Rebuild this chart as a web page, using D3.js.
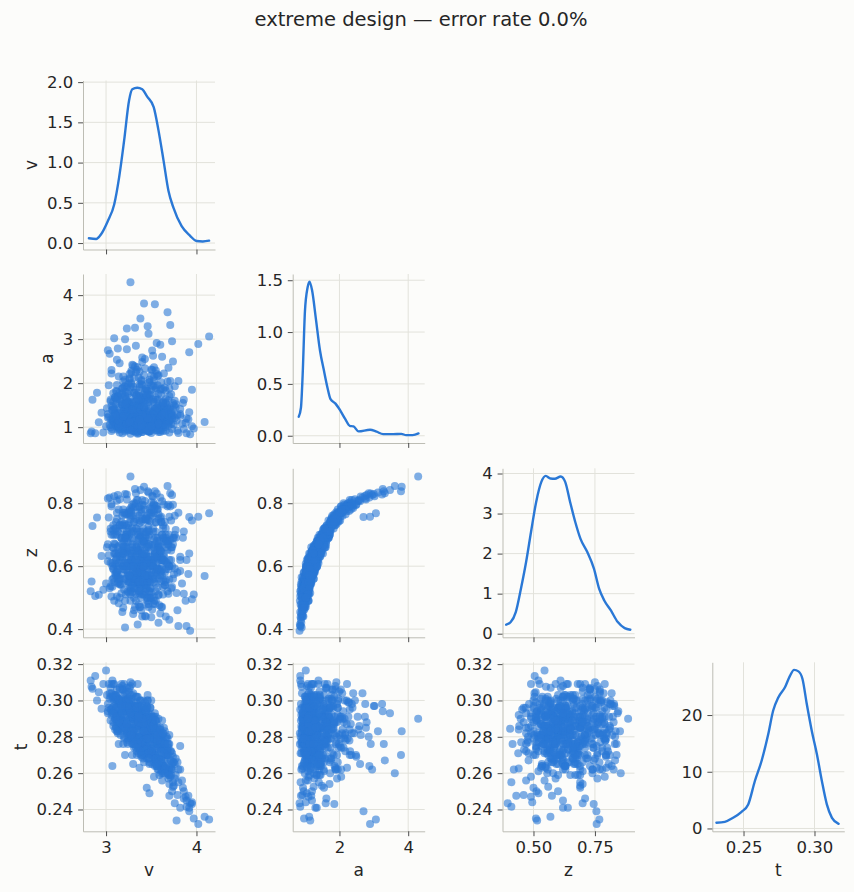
<!DOCTYPE html>
<html>
<head>
<meta charset="utf-8">
<script src="https://cdn.jsdelivr.net/npm/d3@7"></script>
<style>
  body { margin: 0; background: #fcfcfa; }
  svg text { font-family: "DejaVu Sans", sans-serif; fill: #262626; }
</style>
</head>
<body>
<svg id="chart" width="854" height="892"></svg>
<script>
// posterior samples (same order in every array)
const vSamples = [
  3.35,3.42,3.28,3.51,3.19,3.62,3.38,3.24,3.46,3.31,
  3.55,3.12,3.40,3.33,3.68,3.22,3.47,3.36,3.58,3.15,
  3.44,3.29,3.52,3.07,3.39,3.63,3.26,3.34,3.49,3.18,
  3.71,3.37,3.30,3.56,3.21,3.43,3.10,3.60,3.32,3.48,
  3.27,3.54,3.13,3.41,3.66,3.35,3.23,3.45,3.76,3.05,
  3.38,3.50,3.17,3.33,3.59,3.25,3.44,3.11,3.53,3.36,
  3.65,3.20,3.42,3.30,3.57,3.08,3.39,3.47,3.28,3.73,
  3.34,3.51,3.16,3.40,3.62,3.24,3.45,3.14,3.55,3.37,
  3.29,3.69,3.41,3.06,3.48,3.22,3.35,3.59,3.19,3.44,
  3.31,3.64,3.38,3.13,3.50,3.27,3.46,3.34,3.57,3.21,
  3.43,3.09,3.36,3.67,3.26,3.52,3.32,3.40,3.18,3.61,
  3.35,3.47,3.23,3.54,3.30,3.42,3.04,3.39,3.72,3.28,
  3.49,3.15,3.37,3.58,3.25,3.44,3.33,3.11,3.63,3.41,
  3.20,3.53,3.36,3.70,3.29,3.46,3.14,3.39,3.56,3.31,
  3.45,3.24,3.60,3.34,3.02,3.48,3.38,3.17,3.66,3.42,
  3.27,3.51,3.32,3.75,3.19,3.40,3.55,3.35,3.08,3.61,
  3.44,3.22,3.37,3.57,3.30,3.47,3.12,3.68,3.36,3.25,
  3.52,3.41,3.16,3.63,3.33,3.49,3.28,3.43,3.05,3.58,
  3.36,3.50,3.21,3.61,3.28,3.45,3.15,3.57,3.39,3.70,
  3.32,3.48,3.25,3.64,3.43,3.12,3.55,3.37,3.52,3.19,
  3.27,3.42,3.54,3.68,3.71,3.38,3.23,3.32,3.46,3.09,
  4.14,4.02,3.92,3.02,3.13,3.23,3.56,3.60,3.73,3.62,
  3.74,3.06,3.12,3.04,3.29,3.40,3.51,3.33,3.47,3.21,
  2.83,2.88,2.85,2.92,2.84,2.95,3.00,2.90,3.07,2.97,
  4.09,3.97,3.95,3.78,3.82,3.88,3.95,3.85,3.80,3.92,
  3.79,3.84,3.86,3.77,3.73,3.48,3.45,3.82,3.91,3.76,
  3.93,3.89,3.70,3.66,3.58,3.21,3.35,3.62,3.53,3.74,
  3.33,3.40,3.26,3.46,3.37,3.30,3.52,3.18,3.43,3.35,
  3.29,3.55,3.22,3.41,3.10,3.60,3.38,3.49,3.14,3.32,
  3.66,3.03,3.47,3.24,3.57,3.36,3.69,3.11,3.44,3.53,
  3.05,3.18,3.62,3.71,3.26,3.48,3.14,3.57,3.35,3.79,
  3.22,3.40,3.09,3.66,3.53,3.31,3.44,3.16,3.75,3.28,
  3.38,3.59,3.11,3.47,3.24,3.82,3.36,3.02,3.51,3.68,
  3.29,3.45,3.20,3.63,3.07,3.55,3.34,3.72,3.42,3.13,
  3.50,3.19,3.39,3.61,3.27,3.46,3.10,3.58,3.33,3.77,
  3.24,3.56,3.41,3.15,3.69,3.30,3.49,3.06,3.64,3.37,
  3.43,3.21,3.60,3.32,3.08,3.52,3.35,3.74,3.26,3.45,
  3.18,3.39,3.66,3.28,3.54,3.12,3.47,3.33,3.70,3.41,
  3.57,3.23,3.36,3.48,3.14,3.62,3.30,3.44,3.20,3.53,
  3.34,3.65,3.17,3.43,3.27,3.58,3.38,3.09,3.50,3.73,
  3.31,3.46,3.25,3.59,3.40,3.13,3.68,3.36,3.22,3.54,
  3.43,3.28,3.61,3.19,3.50,3.35,3.07,3.72,3.41,3.26,
  3.56,3.38,3.23,3.47,3.15,3.64,3.32,3.44,3.09,3.52,
  3.29,3.48,3.17,3.60,3.37,3.21,3.53,3.42,3.11,3.66,
  3.03,3.06,3.10,3.72,3.80,3.86,3.69,3.76,3.01,3.89,
  3.33,3.47,3.21,3.58,3.12,3.40,3.66,3.28,3.51,3.17,
  3.44,3.26,3.61,3.08,3.37,3.54,3.19,3.70,3.31,3.48,
  3.23,3.42,3.57,3.14,3.36,3.63,3.29,3.46,3.05,3.52,
  3.35,3.18,3.49,3.67,3.25,3.41,3.10,3.56,3.32,3.74,
  3.43,3.27,3.60,3.13,3.39,3.53,3.22,3.64,3.30,3.47,
  3.38,3.20,3.55,3.11,3.45,3.62,3.26,3.50,3.34,3.69,
  3.16,3.40,3.58,3.24,3.46,3.08,3.35,3.65,3.29,3.51,
  3.42,3.27,3.61,3.19,3.37,3.54,3.12,3.48,3.33,3.72,
  3.30,3.45,3.22,3.59,3.36,3.07,3.50,3.25,3.63,3.41,
  3.34,3.18,3.56,3.44,3.28,3.67,3.13,3.39,3.52,3.23,
  3.37,3.24,3.49,3.60,3.15,3.43,3.31,3.55,3.20,3.46,
  3.28,3.52,3.11,3.39,3.65,3.33,3.47,3.22,3.58,3.41,
  3.35,3.19,3.62,3.44,3.26,3.50,3.08,3.38,3.70,3.31,
  3.46,3.24,3.55,3.13,3.40,3.66,3.29,3.52,3.36,3.18,
  3.42,3.27,3.57,3.33,3.48,3.14,3.61,3.23,3.45,3.30,
  3.12,3.25,3.38,3.52,3.65,3.18,3.31,3.44,3.57,3.70,
  3.20,3.34,3.47,3.60,3.08,3.28,3.41,3.54,3.15,3.36,
  3.49,3.23,3.62,3.10,3.39,3.56,3.27,3.43,3.68,3.33,
  3.17,3.46,3.30,3.58,3.21,3.40,3.53,3.14,3.35,3.64,
  3.42,3.26,3.55,3.11,3.37,3.63,3.29,3.50,3.19,3.45
];
const aSamples = [
  1.12,1.05,1.21,0.98,1.36,1.15,1.48,0.93,1.27,1.09,
  1.62,1.01,1.18,0.88,1.31,1.13,1.75,1.02,1.07,1.24,
  0.95,1.42,1.10,1.16,2.05,0.91,1.05,1.33,1.20,0.86,
  1.44,1.11,1.58,1.04,1.19,0.97,1.29,1.85,1.00,1.14,
  1.08,1.25,0.94,1.66,1.12,0.90,1.37,1.06,1.21,1.17,
  1.30,0.87,1.52,1.14,1.38,0.99,1.22,1.08,1.95,1.03,
  1.09,1.12,1.40,0.92,1.17,1.26,1.55,1.01,1.19,0.96,
  1.07,1.34,1.11,0.89,1.23,1.46,1.13,0.98,1.06,1.71,
  1.15,1.03,1.28,0.91,1.10,1.64,1.24,0.94,1.05,1.35,
  1.00,1.47,1.16,1.20,1.09,0.85,1.82,1.27,1.02,1.10,
  0.93,1.39,1.06,1.14,1.31,1.57,0.97,1.12,1.23,1.08,
  1.19,0.90,1.09,1.41,1.13,2.18,1.05,1.01,1.30,1.50,
  1.17,0.88,1.36,1.11,1.04,1.61,1.21,1.15,0.99,1.07,
  1.26,1.03,1.45,1.16,0.92,1.25,1.32,0.95,1.20,1.78,
  1.09,1.14,1.28,1.04,1.22,0.96,1.69,1.06,1.37,1.18,
  1.00,1.13,1.43,1.06,0.97,1.25,1.89,1.08,1.11,1.19,
  1.02,1.35,1.10,0.93,1.16,1.49,1.03,1.22,0.87,1.58,
  1.07,1.33,1.18,1.05,0.94,1.74,1.12,1.27,0.99,1.40,
  2.12,2.31,1.93,2.02,2.24,1.84,2.45,2.16,1.98,1.88,
  2.38,2.08,1.81,2.22,2.55,1.96,2.29,1.91,2.62,2.15,
  4.29,3.81,3.79,3.61,3.32,3.47,3.24,3.26,3.29,3.02,
  3.06,2.89,2.70,2.75,2.79,2.77,2.91,2.87,2.95,2.60,
  2.49,2.30,2.53,2.67,2.42,2.58,2.74,2.85,3.12,3.00,
  0.86,0.86,1.62,1.11,0.90,1.33,1.02,1.78,0.95,0.88,
  1.12,0.97,1.85,1.15,1.26,1.10,1.02,1.55,0.87,1.34,
  0.92,1.08,0.96,1.45,1.20,1.05,0.94,1.30,1.18,1.60,
  0.84,0.86,0.88,0.92,0.89,0.90,0.85,1.02,1.10,1.25,
  1.16,1.09,1.12,1.20,1.04,1.23,1.14,1.07,1.31,0.98,
  1.38,1.00,1.17,1.13,1.06,1.24,1.52,0.91,1.44,1.11,
  1.54,1.25,1.66,1.76,1.34,1.28,1.42,1.65,1.86,1.58,
  1.62,1.88,1.35,2.05,2.21,1.72,1.15,1.95,2.36,1.28,
  1.42,2.48,1.08,1.56,1.18,2.12,1.68,1.25,1.49,2.28,
  1.12,1.34,1.52,2.02,0.96,1.41,1.79,1.30,1.10,2.04,
  1.55,1.22,1.92,1.14,1.39,1.67,2.30,1.26,1.60,1.03,
  1.85,1.07,1.29,1.73,1.46,1.16,1.33,2.18,1.02,1.52,
  1.20,1.44,1.04,1.63,1.27,2.40,1.11,1.48,1.36,1.97,
  1.09,1.71,1.22,1.06,1.58,1.31,1.13,1.40,2.09,1.24,
  1.50,1.17,1.83,1.35,1.01,1.26,1.64,2.25,1.12,1.43,
  1.27,1.91,1.47,1.19,1.08,1.55,1.33,1.69,1.38,2.14,
  1.61,1.14,1.37,2.33,1.05,1.76,1.23,1.42,1.95,1.29,
  1.06,0.95,1.18,1.12,0.89,1.24,1.09,1.02,1.32,0.99,
  1.15,1.03,0.93,1.21,1.10,1.00,1.14,1.07,0.97,1.27,
  1.19,1.08,1.30,0.91,1.13,1.25,1.04,1.17,1.11,1.34,
  1.23,1.12,1.01,1.16,1.28,0.94,1.09,1.21,1.05,1.14,
  1.95,2.22,1.68,1.75,2.05,1.62,2.35,1.93,1.43,1.20,
  1.72,1.36,2.08,1.49,1.81,1.23,1.64,1.97,1.15,1.57,
  1.28,1.53,1.88,1.19,2.26,1.41,1.69,1.32,1.78,2.02,
  1.11,1.45,1.62,2.15,1.25,1.86,1.38,1.07,1.59,1.93,
  1.51,1.76,1.21,1.43,1.99,1.66,1.31,2.21,1.16,1.55,
  1.83,1.26,1.47,1.70,1.09,2.36,1.54,1.35,1.92,1.18,
  1.61,1.40,1.13,1.82,1.34,1.49,2.11,1.24,1.73,1.61,
  1.30,1.95,1.44,1.57,1.06,1.77,1.37,1.90,1.21,2.30,
  1.15,1.67,1.28,2.04,1.52,1.20,1.62,1.42,1.85,1.33,
  1.48,1.27,1.80,1.10,1.63,1.39,2.17,1.14,1.58,1.74,
  1.22,1.53,1.35,1.88,1.09,1.45,1.70,2.08,1.30,1.60,
  0.92,0.97,1.01,0.89,0.95,1.04,0.91,0.99,1.06,0.94,
  1.03,0.96,1.08,0.93,1.00,1.12,0.90,1.05,0.98,1.10,
  1.13,1.02,1.17,0.95,1.09,1.20,1.04,0.97,1.14,1.07,
  1.01,1.16,0.93,1.08,1.22,1.05,0.99,1.12,1.03,1.19,
  1.10,0.94,1.06,1.15,0.90,1.02,1.18,1.09,0.96,1.13,
  1.18,1.42,1.07,1.63,1.25,1.88,1.12,1.50,1.33,1.71,
  1.29,1.05,1.58,1.21,1.46,2.00,1.16,1.37,1.79,1.10,
  1.13,1.55,1.27,1.68,1.03,1.44,1.91,1.22,1.39,1.60,
  1.75,1.20,1.35,1.08,1.52,1.28,2.06,1.14,1.65,1.31,
  1.47,1.11,1.84,1.26,1.17,1.56,1.40,1.02,1.24,1.73
];
const zSamples = [
  0.596,0.510,0.633,0.462,0.663,0.625,0.651,0.552,0.591,0.626,
  0.709,0.504,0.544,0.512,0.652,0.559,0.715,0.608,0.508,0.622,
  0.440,0.689,0.600,0.558,0.780,0.534,0.570,0.596,0.650,0.454,
  0.683,0.513,0.711,0.596,0.637,0.518,0.607,0.753,0.470,0.602,
  0.522,0.645,0.546,0.687,0.556,0.565,0.646,0.564,0.593,0.611,
  0.670,0.438,0.689,0.632,0.619,0.546,0.606,0.602,0.768,0.522,
  0.616,0.526,0.675,0.448,0.591,0.658,0.665,0.574,0.567,0.534,
  0.588,0.668,0.543,0.536,0.619,0.677,0.539,0.482,0.584,0.737,
  0.615,0.512,0.634,0.504,0.610,0.693,0.572,0.476,0.600,0.680,
  0.560,0.689,0.598,0.570,0.516,0.490,0.748,0.661,0.588,0.560,
  0.442,0.672,0.544,0.612,0.612,0.709,0.578,0.576,0.629,0.552,
  0.647,0.470,0.586,0.637,0.549,0.793,0.530,0.564,0.620,0.705,
  0.571,0.542,0.613,0.623,0.516,0.707,0.593,0.625,0.556,0.558,
  0.648,0.502,0.685,0.558,0.518,0.665,0.644,0.460,0.600,0.741,
  0.626,0.572,0.584,0.546,0.616,0.554,0.693,0.514,0.676,0.624,
  0.530,0.619,0.631,0.574,0.468,0.615,0.739,0.542,0.593,0.647,
  0.478,0.670,0.590,0.532,0.548,0.693,0.582,0.606,0.478,0.721,
  0.588,0.636,0.574,0.510,0.566,0.743,0.606,0.591,0.536,0.665,
  0.787,0.803,0.764,0.757,0.787,0.761,0.813,0.781,0.742,0.757,
  0.789,0.783,0.736,0.796,0.807,0.770,0.792,0.772,0.821,0.780,
  0.885,0.852,0.838,0.855,0.832,0.842,0.828,0.845,0.838,0.822,
  0.768,0.757,0.756,0.815,0.826,0.812,0.831,0.818,0.826,0.806,
  0.795,0.797,0.808,0.818,0.795,0.810,0.823,0.832,0.834,0.829,
  0.520,0.505,0.728,0.509,0.551,0.632,0.545,0.755,0.535,0.525,
  0.569,0.510,0.745,0.515,0.585,0.490,0.495,0.690,0.410,0.640,
  0.460,0.545,0.512,0.690,0.600,0.520,0.500,0.620,0.575,0.700,
  0.395,0.410,0.430,0.440,0.420,0.405,0.415,0.470,0.490,0.560,
  0.600,0.580,0.550,0.620,0.570,0.590,0.560,0.600,0.650,0.550,
  0.660,0.545,0.615,0.555,0.575,0.630,0.695,0.500,0.665,0.595,
  0.690,0.635,0.710,0.730,0.625,0.605,0.670,0.720,0.755,0.685,
  0.720,0.730,0.600,0.790,0.775,0.700,0.640,0.780,0.810,0.580,
  0.700,0.795,0.490,0.660,0.660,0.800,0.745,0.560,0.690,0.775,
  0.530,0.680,0.640,0.745,0.580,0.630,0.760,0.670,0.620,0.790,
  0.720,0.570,0.735,0.620,0.610,0.690,0.810,0.660,0.675,0.600,
  0.765,0.600,0.590,0.740,0.640,0.550,0.670,0.765,0.490,0.715,
  0.640,0.630,0.510,0.730,0.590,0.785,0.530,0.700,0.680,0.745,
  0.600,0.700,0.650,0.580,0.715,0.610,0.620,0.690,0.760,0.630,
  0.650,0.630,0.720,0.620,0.560,0.580,0.725,0.800,0.600,0.680,
  0.660,0.765,0.650,0.560,0.610,0.700,0.600,0.690,0.680,0.795,
  0.670,0.540,0.690,0.780,0.620,0.750,0.620,0.640,0.770,0.660,
  0.500,0.560,0.550,0.640,0.440,0.660,0.520,0.590,0.660,0.480,
  0.540,0.600,0.470,0.640,0.610,0.570,0.600,0.530,0.550,0.600,
  0.570,0.580,0.600,0.520,0.560,0.640,0.530,0.610,0.550,0.620,
  0.590,0.600,0.540,0.570,0.640,0.490,0.550,0.620,0.570,0.590,
  0.755,0.790,0.700,0.745,0.770,0.710,0.795,0.760,0.660,0.620,
  0.720,0.670,0.770,0.660,0.750,0.630,0.700,0.760,0.600,0.690,
  0.640,0.700,0.740,0.590,0.790,0.670,0.720,0.620,0.740,0.770,
  0.610,0.680,0.690,0.780,0.600,0.730,0.650,0.550,0.710,0.760,
  0.700,0.730,0.630,0.680,0.770,0.710,0.640,0.790,0.560,0.670,
  0.750,0.650,0.660,0.710,0.580,0.800,0.690,0.630,0.760,0.620,
  0.710,0.660,0.580,0.740,0.660,0.700,0.780,0.610,0.720,0.680,
  0.630,0.750,0.670,0.690,0.570,0.730,0.650,0.740,0.640,0.790,
  0.600,0.710,0.620,0.770,0.690,0.640,0.700,0.670,0.750,0.650,
  0.680,0.610,0.730,0.590,0.700,0.660,0.780,0.570,0.690,0.720,
  0.650,0.670,0.630,0.750,0.620,0.680,0.710,0.770,0.600,0.700,
  0.470,0.520,0.550,0.450,0.500,0.570,0.460,0.520,0.590,0.490,
  0.530,0.480,0.580,0.510,0.540,0.620,0.480,0.510,0.560,0.590,
  0.550,0.590,0.570,0.530,0.600,0.580,0.560,0.470,0.600,0.530,
  0.500,0.610,0.490,0.560,0.580,0.550,0.540,0.570,0.520,0.620,
  0.540,0.510,0.590,0.560,0.500,0.550,0.580,0.600,0.530,0.570,
  0.630,0.660,0.520,0.720,0.580,0.760,0.560,0.700,0.650,0.700,
  0.610,0.580,0.660,0.650,0.700,0.770,0.600,0.630,0.730,0.550,
  0.530,0.710,0.590,0.720,0.500,0.680,0.750,0.570,0.670,0.660,
  0.740,0.630,0.600,0.510,0.690,0.640,0.780,0.590,0.710,0.620,
  0.640,0.570,0.740,0.620,0.550,0.720,0.670,0.500,0.640,0.710
];
const tSamples = [
  0.288,0.275,0.296,0.273,0.298,0.264,0.285,0.286,0.288,0.278,
  0.281,0.302,0.272,0.289,0.270,0.284,0.279,0.295,0.270,0.290,
  0.284,0.285,0.288,0.302,0.274,0.264,0.298,0.279,0.280,0.295,
  0.272,0.289,0.276,0.268,0.301,0.280,0.290,0.281,0.285,0.270,
  0.293,0.277,0.292,0.289,0.273,0.274,0.291,0.275,0.265,0.307,
  0.289,0.271,0.291,0.290,0.268,0.280,0.290,0.296,0.266,0.286,
  0.266,0.298,0.274,0.290,0.278,0.294,0.291,0.268,0.285,0.265,
  0.289,0.284,0.286,0.286,0.269,0.300,0.282,0.298,0.267,0.279,
  0.294,0.274,0.276,0.304,0.282,0.294,0.285,0.278,0.287,0.271,
  0.296,0.264,0.280,0.296,0.282,0.282,0.284,0.272,0.276,0.300,
  0.286,0.300,0.278,0.270,0.287,0.270,0.292,0.281,0.283,0.279,
  0.292,0.282,0.283,0.284,0.291,0.278,0.301,0.272,0.262,0.294,
  0.272,0.298,0.286,0.273,0.294,0.278,0.279,0.303,0.260,0.286,
  0.294,0.281,0.275,0.262,0.290,0.274,0.289,0.288,0.283,0.284,
  0.279,0.295,0.274,0.291,0.294,0.271,0.287,0.294,0.268,0.289,
  0.287,0.272,0.297,0.266,0.296,0.278,0.276,0.286,0.301,0.266,
  0.277,0.286,0.294,0.275,0.279,0.285,0.292,0.272,0.280,0.293,
  0.277,0.283,0.294,0.273,0.279,0.274,0.284,0.290,0.302,0.265,
  0.288,0.272,0.298,0.275,0.279,0.287,0.300,0.281,0.276,0.263,
  0.296,0.282,0.297,0.263,0.284,0.300,0.278,0.277,0.281,0.290,
  0.290,0.283,0.270,0.260,0.267,0.293,0.298,0.294,0.276,0.297,
  0.2345,0.232,0.239,0.298,0.288,0.285,0.276,0.264,0.262,0.265,
  0.269,0.295,0.291,0.304,0.282,0.286,0.291,0.280,0.283,0.297,
  0.311,0.3135,0.3065,0.3045,0.3075,0.2955,0.3165,0.300,0.264,0.309,
  0.236,0.235,0.243,0.234,0.275,0.247,0.244,0.252,0.255,0.241,
  0.248,0.256,0.250,0.259,0.250,0.249,0.252,0.241,0.2475,0.2435,
  0.2435,0.2415,0.2475,0.2625,0.262,0.2845,0.276,0.256,0.258,0.2525,
  0.283,0.287,0.292,0.281,0.279,0.290,0.279,0.289,0.285,0.289,
  0.283,0.271,0.288,0.290,0.293,0.276,0.280,0.283,0.301,0.277,
  0.262,0.309,0.274,0.301,0.283,0.297,0.259,0.286,0.291,0.287,
  0.289,0.306,0.281,0.258,0.300,0.266,0.284,0.262,0.298,0.266,
  0.305,0.270,0.309,0.276,0.286,0.274,0.293,0.281,0.253,0.299,
  0.295,0.259,0.285,0.290,0.276,0.262,0.271,0.293,0.265,0.279,
  0.303,0.268,0.280,0.282,0.311,0.289,0.270,0.272,0.296,0.285,
  0.288,0.303,0.269,0.260,0.279,0.300,0.303,0.282,0.293,0.268,
  0.282,0.264,0.291,0.307,0.257,0.304,0.287,0.292,0.277,0.274,
  0.271,0.296,0.285,0.276,0.288,0.281,0.302,0.255,0.284,0.297,
  0.288,0.288,0.270,0.296,0.270,0.291,0.283,0.299,0.281,0.277,
  0.276,0.282,0.292,0.273,0.300,0.261,0.281,0.291,0.309,0.279,
  0.281,0.283,0.285,0.287,0.308,0.268,0.300,0.302,0.292,0.271,
  0.297,0.286,0.278,0.278,0.292,0.289,0.261,0.276,0.300,0.267,
  0.276,0.283,0.276,0.288,0.270,0.281,0.296,0.263,0.284,0.295,
  0.283,0.288,0.289,0.277,0.292,0.273,0.289,0.286,0.294,0.276,
  0.291,0.284,0.297,0.273,0.285,0.286,0.279,0.283,0.298,0.270,
  0.296,0.309,0.301,0.267,0.262,0.246,0.270,0.257,0.303,0.245,
  0.296,0.286,0.304,0.268,0.306,0.293,0.279,0.301,0.284,0.309,
  0.273,0.298,0.262,0.309,0.291,0.268,0.300,0.276,0.292,0.291,
  0.294,0.270,0.285,0.300,0.296,0.264,0.281,0.283,0.295,0.270,
  0.290,0.285,0.296,0.273,0.305,0.278,0.290,0.287,0.279,0.266,
  0.285,0.303,0.278,0.291,0.277,0.282,0.297,0.271,0.288,0.293,
  0.300,0.289,0.268,0.296,0.281,0.276,0.294,0.273,0.290,0.276,
  0.291,0.296,0.274,0.284,0.300,0.303,0.275,0.262,0.309,0.284,
  0.288,0.281,0.267,0.306,0.275,0.293,0.288,0.265,0.302,0.259,
  0.291,0.293,0.300,0.284,0.288,0.293,0.272,0.285,0.278,0.268,
  0.302,0.296,0.264,0.288,0.291,0.280,0.282,0.290,0.287,0.307,
  0.293,0.279,0.286,0.277,0.288,0.271,0.296,0.281,0.285,0.290,
  0.281,0.285,0.291,0.277,0.276,0.292,0.271,0.299,0.266,0.287,
  0.276,0.284,0.281,0.294,0.296,0.288,0.293,0.272,0.259,0.281,
  0.296,0.297,0.291,0.283,0.290,0.264,0.276,0.290,0.292,0.293,
  0.283,0.293,0.278,0.297,0.279,0.301,0.272,0.287,0.279,0.283,
  0.283,0.301,0.272,0.286,0.260,0.308,0.276,0.295,0.281,0.254,
  0.279,0.296,0.268,0.284,0.286,0.281,0.300,0.264,0.306,0.291,
  0.296,0.277,0.289,0.284,0.270,0.265,0.310,0.299,0.276,0.274,
  0.297,0.303,0.265,0.290,0.270,0.297,0.291,0.276,0.309,0.285,
  0.266,0.307,0.289,0.302,0.263,0.282,0.270,0.300,0.276,0.296
];

// density curves on the diagonal
const vKdeX = [2.81,2.89,2.945,3.02,3.09,3.145,3.20,3.255,3.29,3.345,3.40,3.455,3.527,3.58,3.636,3.69,3.745,3.836,3.93,4.00,4.07,4.14];
const vKdeY = [0.06,0.05,0.11,0.275,0.48,0.82,1.275,1.775,1.91,1.93,1.91,1.82,1.69,1.40,1.025,0.65,0.44,0.21,0.09,0.025,0.02,0.03];
const aKdeX = [0.815,0.88,0.93,0.996,1.073,1.13,1.205,1.31,1.435,1.55,1.65,1.74,1.885,2.03,2.17,2.30,2.41,2.555,2.89,3.08,3.27,3.56,3.80,3.94,4.13,4.30];
const aKdeY = [0.183,0.27,0.59,1.20,1.43,1.486,1.40,1.14,0.82,0.626,0.466,0.353,0.31,0.24,0.16,0.096,0.09,0.042,0.058,0.039,0.016,0.016,0.018,0.006,0.006,0.022];
const zKdeX = [0.389,0.4075,0.428,0.449,0.47,0.49,0.511,0.532,0.55,0.569,0.587,0.611,0.629,0.649,0.67,0.691,0.719,0.746,0.767,0.788,0.815,0.843,0.871,0.894];
const zKdeY = [0.225,0.29,0.54,1.125,1.79,2.54,3.29,3.79,3.94,3.875,3.87,3.925,3.79,3.29,2.79,2.375,2.04,1.625,1.125,0.83,0.58,0.29,0.14,0.10];
const tKdeX = [0.2309,0.2368,0.2426,0.2486,0.2533,0.258,0.2627,0.2674,0.2709,0.2745,0.2792,0.2828,0.2856,0.2887,0.2915,0.2946,0.2981,0.3017,0.3052,0.3087,0.3123,0.317];
const tKdeY = [1.0,1.17,1.88,2.94,4.24,8.37,11.9,16.6,20.8,23.1,24.9,26.96,27.96,27.7,26.4,21.9,17.2,13.1,8.37,4.25,1.88,0.81];

// tick values
const vTicks = [3, 4];
const aTicksY = [1, 2, 3, 4];
const aTicksX = [2, 4];
const zTicksY = [0.4, 0.6, 0.8];
const zTicksX = [0.5, 0.75];
const tTicksY = [0.24, 0.26, 0.28, 0.30, 0.32];
const tTicksX = [0.25, 0.30];
const vDensTicks = [0, 0.5, 1, 1.5, 2];
const aDensTicks = [0, 0.5, 1, 1.5];
const zDensTicks = [0, 1, 2, 3, 4];
const tDensTicks = [0, 10, 20];

const title = 'extreme design \u2014 error rate 0.0%';

const f1 = d3.format('.1f'), f2 = d3.format('.2f'), fi = d3.format('d');
const vars = [
  { name: 'v', values: vSamples, domain: [2.745, 4.205], xTicks: vTicks, xFmt: fi, yTicks: vTicks, yFmt: fi,
    kx: vKdeX, ky: vKdeY, dDomain: [-0.08, 2.02], dTicks: vDensTicks, dFmt: f1 },
  { name: 'a', values: aSamples, domain: [0.64, 4.48], xTicks: aTicksX, xFmt: fi, yTicks: aTicksY, yFmt: fi,
    kx: aKdeX, ky: aKdeY, dDomain: [-0.07, 1.56], dTicks: aDensTicks, dFmt: f1 },
  { name: 'z', values: zSamples, domain: [0.374, 0.911], xTicks: zTicksX, xFmt: f2, yTicks: zTicksY, yFmt: f1,
    kx: zKdeX, ky: zKdeY, dDomain: [-0.09, 4.13], dTicks: zDensTicks, dFmt: fi },
  { name: 't', values: tSamples, domain: [0.228, 0.321], xTicks: tTicksX, xFmt: f2, yTicks: tTicksY, yFmt: f2,
    kx: tKdeX, ky: tKdeY, dDomain: [-0.5, 29.3], dTicks: tDensTicks, dFmt: fi }
];

const colLeft = [83, 292.7, 502.5, 712.3];
const rowTop = [80.5, 274, 468.3, 662.3];
const pw = 132, ph = 169;
const blue = '#2a78d6';
const gridColor = '#e2e2db';
const spineColor = '#bdbdb4';
const tickFont = 16.5;

const svg = d3.select('#chart');
svg.append('rect').attr('width', 854).attr('height', 892).attr('fill', '#fcfcfa');

svg.append('text')
  .attr('x', 421)
  .attr('y', 26)
  .attr('text-anchor', 'middle')
  .attr('font-size', 19.5)
  .text(title);

function styleAxis(sel) {
  sel.attr('font-family', null).attr('font-size', null);
  sel.select('.domain').attr('stroke', spineColor).attr('stroke-width', 1);
  sel.selectAll('.tick line').attr('stroke', '#3a3a3a').attr('stroke-width', 0.9);
  sel.selectAll('.tick text').attr('font-size', tickFont).attr('fill', '#262626');
}

vars.forEach((rv, i) => {
  vars.forEach((cv, j) => {
    if (j > i) return;
    const diag = i === j;
    const g = svg.append('g').attr('transform', `translate(${colLeft[j]},${rowTop[i]})`);
    const x = d3.scaleLinear().domain(cv.domain).range([0, pw]);
    const y = d3.scaleLinear().domain(diag ? rv.dDomain : rv.domain).range([ph, 0]);
    const yTicks = diag ? rv.dTicks : rv.yTicks;
    const yFmt = diag ? rv.dFmt : rv.yFmt;

    // grid
    g.append('g')
      .selectAll('line')
      .data(cv.xTicks)
      .join('line')
      .attr('x1', d => x(d)).attr('x2', d => x(d))
      .attr('y1', 0).attr('y2', ph)
      .attr('stroke', gridColor).attr('stroke-width', 1);
    g.append('g')
      .selectAll('line')
      .data(yTicks)
      .join('line')
      .attr('x1', 0).attr('x2', pw)
      .attr('y1', d => y(d)).attr('y2', d => y(d))
      .attr('stroke', gridColor).attr('stroke-width', 1);

    if (diag) {
      const line = d3.line()
        .x(k => x(cv.kx[k]))
        .y(k => y(cv.ky[k]))
        .curve(d3.curveMonotoneX);
      g.append('path')
        .datum(d3.range(cv.kx.length))
        .attr('fill', 'none')
        .attr('stroke', blue)
        .attr('stroke-width', 2.4)
        .attr('stroke-linejoin', 'round')
        .attr('stroke-linecap', 'round')
        .attr('d', line);
    } else {
      g.append('g')
        .selectAll('circle')
        .data(d3.range(cv.values.length))
        .join('circle')
        .attr('cx', k => x(cv.values[k]))
        .attr('cy', k => y(rv.values[k]))
        .attr('r', 4)
        .attr('fill', blue)
        .attr('fill-opacity', 0.6);
    }

    const ax = g.append('g')
      .attr('transform', `translate(0,${ph})`)
      .call(d3.axisBottom(x).tickValues(cv.xTicks).tickSizeInner(4.9).tickSizeOuter(0)
        .tickPadding(4.9).tickFormat(i === 3 ? cv.xFmt : () => ''));
    styleAxis(ax);

    const ay = g.append('g')
      .call(d3.axisLeft(y).tickValues(yTicks).tickSizeInner(4.9).tickSizeOuter(0)
        .tickPadding(4.9).tickFormat(yFmt));
    styleAxis(ay);

    if (i === 3) {
      g.append('text')
        .attr('x', pw / 2)
        .attr('y', ph + 45)
        .attr('text-anchor', 'middle')
        .attr('font-size', 17)
        .text(cv.name);
    }
    if (j === 0) {
      const bb = ay.node().getBBox();
      g.append('text')
        .attr('transform', `translate(${bb.x - 9.5},${ph / 2}) rotate(-90)`)
        .attr('text-anchor', 'middle')
        .attr('font-size', 17)
        .text(rv.name);
    }
  });
});
</script>
</body>
</html>
